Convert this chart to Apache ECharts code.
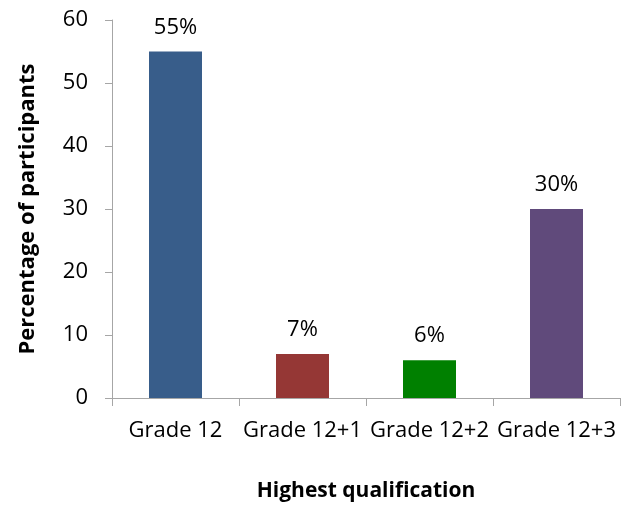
<!DOCTYPE html>
<html>
<head>
<meta charset="utf-8">
<script src="https://cdn.jsdelivr.net/npm/echarts@6/dist/echarts.min.js"></script>
<style>
  html, body { margin: 0; padding: 0; background: #fff; }
  #chart { width: 644px; height: 507px; }
</style>
</head>
<body>
<div id="chart"></div>
<script>
// Highest qualification of participants (percent)
const categories = ['Grade 12', 'Grade 12+1', 'Grade 12+2', 'Grade 12+3'];
const percentages = [55, 7, 6, 30];
const barColors = ['#385D8A', '#953735', '#008000', '#604A7B'];
const yTicks = { min: 0, max: 60, interval: 10 };

const FONT = '"Open Sans", sans-serif';
const AXIS_GRAY = '#A6A6A6';

const chart = echarts.init(document.getElementById('chart'), null, { renderer: 'canvas' });

chart.setOption({
  animation: false,
  grid: { left: 112, right: 24, top: 20, bottom: 109, containLabel: false },
  xAxis: {
    type: 'category',
    data: categories,
    axisLine: { lineStyle: { color: AXIS_GRAY, width: 1 } },
    axisTick: { show: true, alignWithLabel: false, length: 8, lineStyle: { color: AXIS_GRAY } },
    axisLabel: { color: '#000', fontFamily: FONT, fontSize: 22, margin: 22, interval: 0 },
    name: 'Highest qualification',
    nameLocation: 'middle',
    nameGap: 83,
    nameTextStyle: { color: '#000', fontFamily: FONT, fontSize: 21, fontWeight: 'bold' }
  },
  yAxis: {
    type: 'value',
    min: yTicks.min,
    max: yTicks.max,
    interval: yTicks.interval,
    splitLine: { show: false },
    axisLine: { show: true, lineStyle: { color: AXIS_GRAY, width: 1 } },
    axisTick: { show: true, length: 7, lineStyle: { color: AXIS_GRAY } },
    axisLabel: { color: '#000', fontFamily: FONT, fontSize: 22, margin: 24 },
    name: 'Percentage of participants',
    nameLocation: 'middle',
    nameGap: 73,
    nameRotate: 90,
    nameTextStyle: { color: '#000', fontFamily: FONT, fontSize: 22, fontWeight: 'bold' }
  },
  series: [{
    type: 'bar',
    barWidth: 53,
    data: percentages.map((v, i) => ({ value: v, itemStyle: { color: barColors[i] } })),
    label: {
      show: true,
      position: 'top',
      distance: 13,
      formatter: p => p.value + '%',
      color: '#000',
      fontFamily: FONT,
      fontSize: 22
    }
  }]
});
</script>
</body>
</html>
